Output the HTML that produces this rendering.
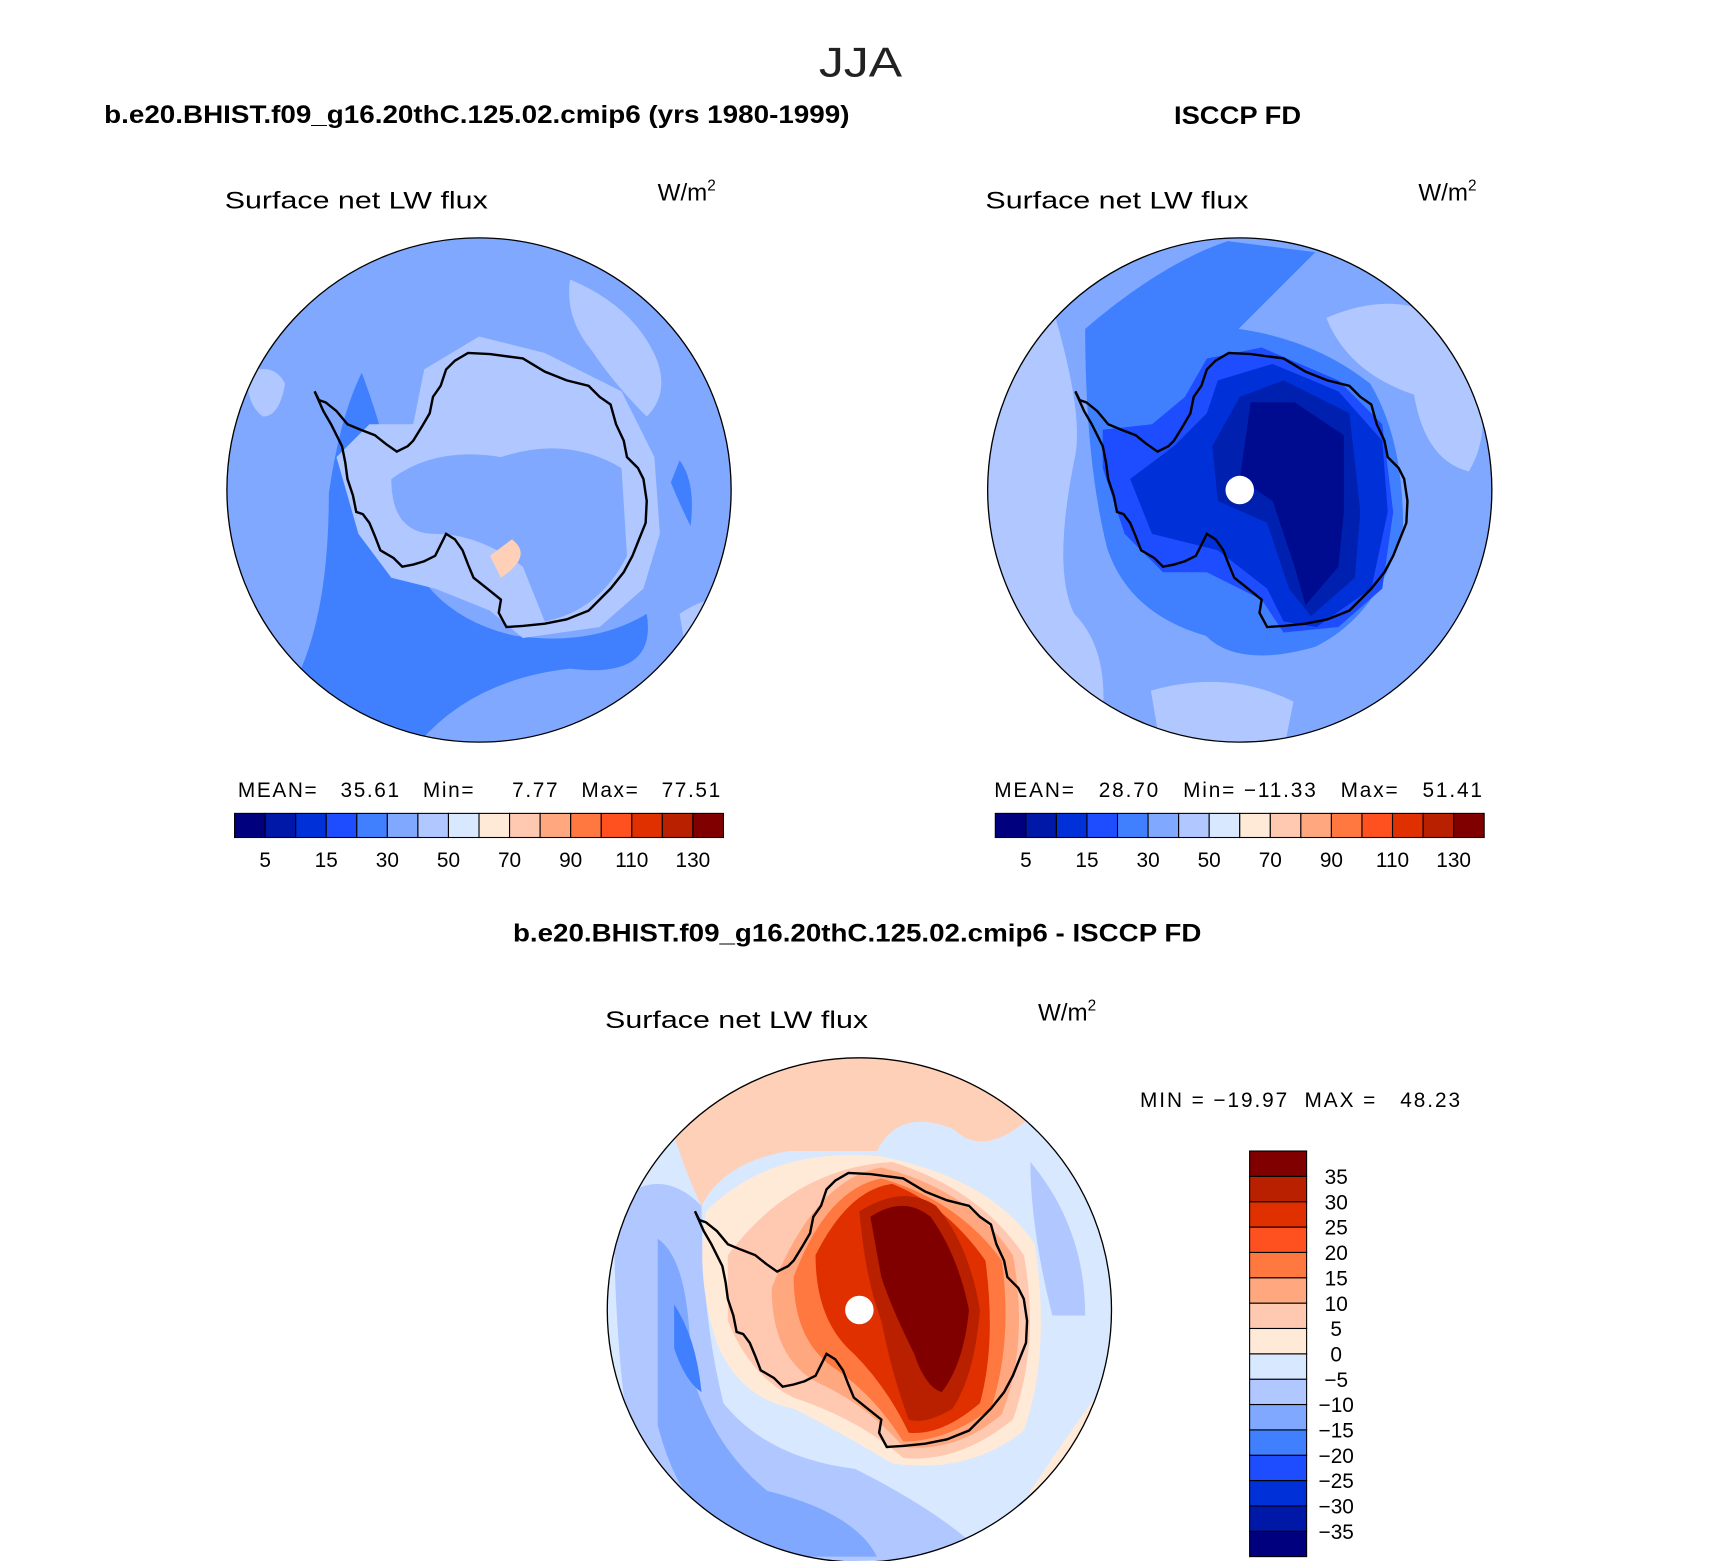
<!DOCTYPE html>
<html><head><meta charset="utf-8">
<style>
html,body{margin:0;padding:0;background:#fff;}
svg{display:block;}
text{font-family:"Liberation Sans",sans-serif;}
</style></head>
<body>
<svg id="fig" width="1710" height="1561" viewBox="0 0 1560 1424" preserveAspectRatio="none" xmlns="http://www.w3.org/2000/svg">
<defs>
<path id="ant" d="M-30,-110 L-22,-118 -10,-125 10,-124 40,-120 60,-108 80,-100 100,-95 110,-85 120,-78 125,-60 132,-45 135,-30 145,-20 150,-10 153,10 152,30 146,45 140,60 132,75 120,90 110,100 100,110 80,118 60,122 40,124 25,125 18,112 20,100 10,92 -5,80 -10,68 -15,55 -22,45 -30,40 -35,50 -40,60 -50,65 -60,68 -70,70 -78,62 -90,55 -95,42 -100,30 -106,22 -112,20 -115,5 -120,-10 -122,-25 -125,-40 -130,-50 -135,-60 -142,-72 -150,-90 -146,-82 -140,-80 -130,-72 -120,-60 -108,-55 -95,-50 -85,-42 -75,-35 -65,-40 -60,-45 -52,-58 -45,-70 -42,-85 -35,-95 Z"/>
<clipPath id="c1"><circle cx="437" cy="447" r="230"/></clipPath>
<clipPath id="c2"><circle cx="1131" cy="447" r="230"/></clipPath>
<clipPath id="c3"><circle cx="784" cy="1195" r="230"/></clipPath>
</defs>

<text x="747" y="70" font-size="38" font-weight="300" fill="#222" textLength="76" lengthAdjust="spacingAndGlyphs">JJA</text>
<text x="95" y="112" font-size="23" font-weight="bold" textLength="680" lengthAdjust="spacingAndGlyphs">b.e20.BHIST.f09_g16.20thC.125.02.cmip6 (yrs 1980-1999)</text>
<text x="1071" y="113" font-size="23" font-weight="bold" textLength="116" lengthAdjust="spacingAndGlyphs">ISCCP FD</text>
<text x="468" y="859" font-size="23" font-weight="bold" textLength="628" lengthAdjust="spacingAndGlyphs">b.e20.BHIST.f09_g16.20thC.125.02.cmip6 - ISCCP FD</text>

<text x="205" y="190" font-size="22" textLength="240" lengthAdjust="spacingAndGlyphs">Surface net LW flux</text>
<text x="600" y="183" font-size="22">W/m<tspan font-size="14" dy="-9">2</tspan></text>
<text x="899" y="190" font-size="22" textLength="240" lengthAdjust="spacingAndGlyphs">Surface net LW flux</text>
<text x="1294" y="183" font-size="22">W/m<tspan font-size="14" dy="-9">2</tspan></text>
<text x="552" y="938" font-size="22" textLength="240" lengthAdjust="spacingAndGlyphs">Surface net LW flux</text>
<text x="947" y="931" font-size="22">W/m<tspan font-size="14" dy="-9">2</tspan></text>

<!-- model map -->
<g clip-path="url(#c1)">
<rect x="200" y="210" width="480" height="480" fill="#80a8ff"/>
<path d="M310,690 L270,620 Q300,560 300,450 Q310,380 330,340 Q360,420 360,470 Q380,560 470,580 Q540,590 590,560 Q600,620 520,610 Q430,620 380,680 Z" fill="#4080ff"/>
<path d="M520,255 Q580,280 600,330 Q610,360 590,380 Q560,350 540,320 Q515,290 520,255Z" fill="#b0c8ff"/>
<path d="M225,340 Q250,330 260,350 Q255,380 240,380 Q225,370 225,340Z" fill="#b0c8ff"/>
<path d="M620,420 Q635,440 630,480 Q620,460 612,440Z" fill="#4080ff"/>
<path d="M620,560 Q650,540 665,550 L665,600 Q640,600 625,590Z" fill="#b0c8ff"/>
<path d="M330,440 Q360,410 380,420 Q400,400 380,460 Q350,470 330,440Z" fill="#1e50ff"/>
<g transform="translate(437,447)">
<path d="M-50,-110 L0,-140 60,-125 130,-90 160,-30 165,40 150,90 110,125 40,135 10,110 -40,90 -80,80 -110,40 -130,-30 -100,-60 -60,-60 Z" fill="#b0c8ff"/>
<path d="M-80,-10 Q-40,-40 20,-30 Q80,-50 130,-20 L135,60 Q110,110 60,120 L40,70 Q0,40 -40,40 Q-80,40 -80,-10Z" fill="#80a8ff"/>
<path d="M30,45 Q50,60 20,80 L10,60Z" fill="#ffd0b8"/>
</g>
</g>
<circle cx="437" cy="447" r="230" fill="none" stroke="#000" stroke-width="1.2"/>
<use href="#ant" transform="translate(437,447)" fill="none" stroke="#000" stroke-width="2.2"/>

<!-- obs map -->
<g clip-path="url(#c2)">
<rect x="895" y="210" width="480" height="480" fill="#80a8ff"/>
<path d="M895,300 L960,280 Q990,380 980,420 Q960,520 980,560 Q1020,600 1000,690 L895,690Z" fill="#b0c8ff"/>
<path d="M1210,290 Q1280,260 1330,300 Q1370,380 1340,430 Q1300,420 1290,360 Q1230,340 1210,290Z" fill="#b0c8ff"/>
<path d="M1050,630 Q1120,610 1180,640 L1170,690 L1060,690Z" fill="#b0c8ff"/>
<path d="M990,300 Q1060,240 1120,220 L1200,230 Q1150,280 1130,300 Q1200,310 1250,350 Q1280,400 1280,480 Q1260,560 1200,590 Q1130,610 1100,580 Q1030,560 1010,500 Q990,420 990,300Z" fill="#4080ff"/>
<g transform="translate(1131,447)">
<path d="M-30,-120 L20,-130 90,-100 130,-60 140,20 130,90 90,125 40,130 20,100 -30,75 -70,75 -105,40 -125,-20 -125,-55 -80,-60 -50,-85Z" fill="#1e4cff"/>
<path d="M-20,-100 L30,-115 90,-90 130,-45 135,20 120,90 70,125 40,120 25,90 -20,55 -80,40 -100,-10 -60,-40 -30,-70Z" fill="#0030d8"/>
<path d="M0,-85 L40,-100 100,-70 110,20 105,80 65,115 45,90 25,30 -20,10 -25,-40Z" fill="#0020b0"/>
<path d="M10,-80 L50,-80 95,-50 95,20 90,70 60,105 50,70 30,10 0,-10Z" fill="#000c90"/>
</g>
<circle cx="1131" cy="447" r="13" fill="#fff"/>
</g>
<circle cx="1131" cy="447" r="230" fill="none" stroke="#000" stroke-width="1.2"/>
<use href="#ant" transform="translate(1131,447)" fill="none" stroke="#000" stroke-width="2.2"/>

<!-- diff map -->
<g clip-path="url(#c3)">
<rect x="550" y="960" width="470" height="470" fill="#d8e8ff"/>
<path d="M560,1100 Q600,1060 640,1100 Q640,1200 660,1280 Q700,1330 780,1340 Q860,1380 900,1420 L600,1430 Q560,1300 560,1100Z" fill="#b0c8ff"/>
<path d="M600,1130 Q630,1150 630,1250 Q650,1320 700,1360 Q780,1380 800,1420 L680,1420 Q620,1380 600,1300Z" fill="#80a8ff"/>
<path d="M615,1190 Q635,1220 640,1270 Q625,1260 615,1230Z" fill="#4080ff"/>
<path d="M940,1060 Q990,1120 990,1200 L960,1200 Q940,1120 940,1060Z" fill="#b0c8ff"/>
<path d="M600,985 Q700,960 800,962 Q900,970 950,1010 Q900,1060 870,1030 Q820,1010 800,1050 Q760,1050 720,1050 Q660,1060 640,1100 Q620,1060 600,985Z" fill="#ffd0b8"/>
<path d="M940,1360 Q980,1300 1010,1260 L1010,1400 Q960,1420 930,1400Z" fill="#ffead8"/>
<g transform="translate(784,1195)">
<path d="M-140,-90 Q-80,-150 20,-140 Q120,-120 160,-60 Q175,40 150,110 Q100,150 30,140 Q-20,110 -60,90 Q-110,80 -130,30 Q-150,-30 -140,-90Z" fill="#ffead8"/>
<path d="M-120,-50 Q-60,-130 30,-135 Q110,-110 150,-50 Q165,30 140,100 Q90,140 40,135 Q0,100 -60,80 Q-100,60 -120,10Z" fill="#ffc8b0"/>
<path d="M-80,-20 Q-40,-120 20,-130 Q100,-110 140,-50 Q155,30 130,95 Q90,130 40,125 Q10,90 -30,70 Q-80,50 -80,-20Z" fill="#ffa880"/>
<path d="M-60,-30 Q-30,-110 20,-120 Q90,-100 130,-45 Q140,30 120,90 Q80,120 40,120 Q15,80 -20,55 Q-60,30 -60,-30Z" fill="#ff7840"/>
<path d="M-40,-50 Q-10,-110 30,-115 Q80,-95 115,-45 Q125,30 110,85 Q75,115 45,112 Q25,70 -5,40 Q-40,10 -40,-50Z" fill="#e03000"/>
<path d="M0,-90 Q40,-115 70,-95 Q100,-60 110,0 Q105,60 85,90 Q60,105 45,100 Q30,60 20,10 Q5,-30 0,-90Z" fill="#b82000"/>
<path d="M10,-85 Q40,-105 65,-85 Q90,-50 100,0 Q95,50 75,75 Q60,70 50,40 Q30,0 20,-30Z" fill="#800000"/>
</g>
<circle cx="784" cy="1195" r="13" fill="#fff"/>
</g>
<circle cx="784" cy="1195" r="230" fill="none" stroke="#000" stroke-width="1.2"/>
<use href="#ant" transform="translate(784,1195)" fill="none" stroke="#000" stroke-width="2.2"/>

<text x="217" y="727" font-size="19" xml:space="preserve" textLength="440" lengthAdjust="spacing">MEAN=   35.61   Min=     7.77   Max=   77.51</text>
<text x="907" y="727" font-size="19" xml:space="preserve" textLength="445" lengthAdjust="spacing">MEAN=   28.70   Min= −11.33   Max=   51.41</text>
<text x="1040" y="1010" font-size="19" xml:space="preserve" textLength="292" lengthAdjust="spacing">MIN = −19.97  MAX =   48.23</text>

<g id="cb1"></g>
<g id="cb2"></g>
<g id="cb3"></g>
</svg>
<script>
const absColors = ["#00007f","#0018a8","#0030d8","#1e4cff","#4080ff","#80a8ff","#b0c8ff","#d8e8ff","#ffead8","#ffc8b0","#ffa880","#ff7840","#ff5020","#e03000","#b82000","#800000"];
const absTickLabels = ["5","15","30","50","70","90","110","130"];
const diffColors = ["#00007f","#0018a8","#0030d8","#1e4cff","#4080ff","#80a8ff","#b0c8ff","#d8e8ff","#ffead8","#ffc8b0","#ffa880","#ff7840","#ff5020","#e03000","#b82000","#800000"];
const diffTickLabels = ["-35","-30","-25","-20","-15","-10","-5","0","5","10","15","20","25","30","35"];
const NS = "http://www.w3.org/2000/svg";
function mk(tag, attrs){const e=document.createElementNS(NS,tag);for(const k in attrs)e.setAttribute(k,attrs[k]);return e;}
function hbar(id, x0, y0, w, h){
  const g=document.getElementById(id); const bw=w/absColors.length;
  absColors.forEach((c,i)=>{const r=mk("rect",{x:x0+i*bw,y:y0,width:bw,height:h,fill:c,stroke:"#000","stroke-width":1});
    
    
    g.appendChild(r);});
  absTickLabels.forEach((t,i)=>{const tx=mk("text",{x:x0+(2*i+1)*bw,y:y0+h+27,"font-size":19,"text-anchor":"middle"});tx.textContent=t;
    
    
    g.appendChild(tx);});
}
hbar("cb1",214,742,446,22);
hbar("cb2",908,742,446,22);
(function(){
  const g=document.getElementById("cb3"); const x0=1140,y0=1050,w=52,h=370; const bh=h/diffColors.length;
  diffColors.forEach((c,i)=>{const r=mk("rect",{x:x0,y:y0+h-(i+1)*bh,width:w,height:bh,fill:c,stroke:"#000","stroke-width":1});
    
    
    g.appendChild(r);});
  diffTickLabels.forEach((t,i)=>{const tx=mk("text",{x:1219,y:y0+h-(i+1)*bh+7,"font-size":19,"text-anchor":"middle"});tx.textContent=t.replace("-","\u2212");
    
    
    g.appendChild(tx);});
})();
</script>
</body></html>
